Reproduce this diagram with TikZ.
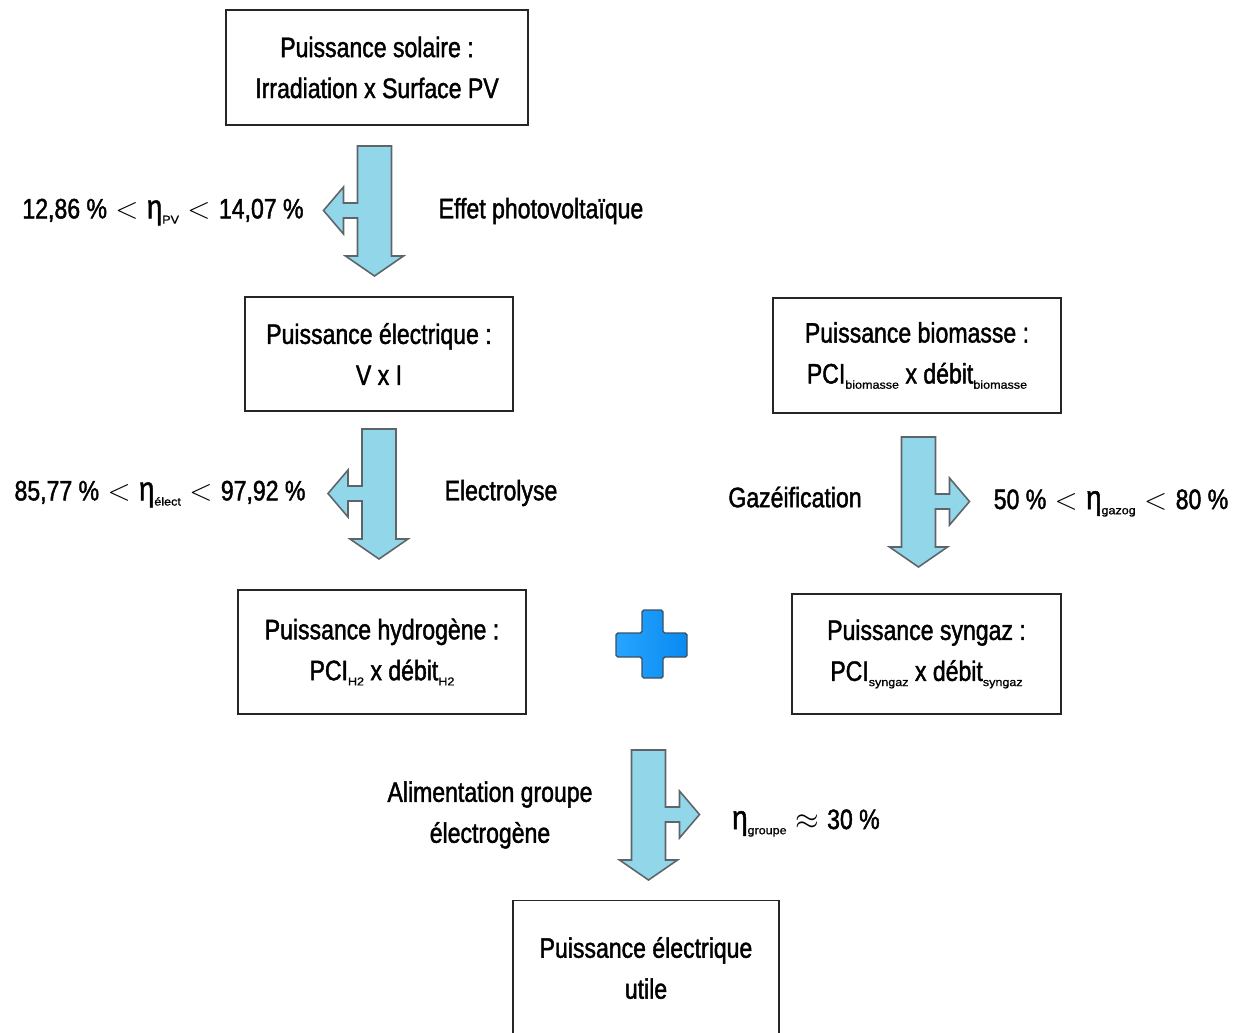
\documentclass[tikz,border=0pt]{standalone}
\usepackage{fontspec}
\setmainfont{Liberation Sans}[FakeStretch=0.82, FakeBold=1.5]
\newfontfamily\subfont{Liberation Sans}[FakeStretch=1.1, FakeBold=1]
\usepackage{xcolor}
\usepackage{tikz}

\definecolor{flowblue}{RGB}{146,214,234}
\definecolor{flowedge}{RGB}{95,100,105}
\definecolor{plusleft}{RGB}{40,165,255}
\definecolor{plusright}{RGB}{8,138,240}
\definecolor{plusedge}{RGB}{60,80,100}

% small index under the eta
\newcommand{\lo}[1]{\raisebox{-0.35ex}{\subfont\fontsize{6.5}{6.5}\selectfont #1}}
\newcommand{\ltsym}{{\fontsize{17}{17}\selectfont$\;<\;$}}
\newcommand{\etasym}{{\fontsize{19}{19}\selectfont η}}
\newcommand{\approxsym}{{\fontsize{17}{17}\selectfont$\;\approx\;$}}

% block arrow going down with a side branch (#3=1 left, #3=-1 right)
\newcommand{\brancharrow}[3]{%
\begin{scope}[shift={(#1,#2)},xscale=#3]
\draw[blockarrow] (-17,0) -- (17,0) -- (17,110) -- (29,110) -- (0,130) -- (-29,110) -- (-17,110)
  -- (-17,72) -- (-31,72) -- (-31,88) -- (-51,64.5) -- (-31,41) -- (-31,57) -- (-17,57) -- cycle;
\end{scope}}

\begin{document}
\begin{tikzpicture}[x=0.02cm,y=-0.02cm,
  box/.style={draw=black!85, line width=1pt, align=center, inner sep=0pt,
    font=\fontsize{16}{23.3}\selectfont},
  txt/.style={align=center, inner sep=0pt, font=\fontsize{16}{23.3}\selectfont},
  blockarrow/.style={draw=flowedge, line width=0.9pt, fill=flowblue, line join=miter}]

\clip (0,0) rectangle (1244,1032);

% boxes
\node[box, minimum width=6.04cm, minimum height=2.30cm] (solaire) at (377,67.5)
  {Puissance solaire :\\Irradiation x Surface PV};
\node[box, minimum width=5.36cm, minimum height=2.28cm] (elec) at (379,354)
  {Puissance électrique :\\V x I};
\node[box, minimum width=5.76cm, minimum height=2.30cm] (biomasse) at (917,355.5)
  {Puissance biomasse :\\PCI\lo{biomasse} x débit\lo{biomasse}};
\node[box, minimum width=5.76cm, minimum height=2.48cm] (hydrogene) at (382,652)
  {Puissance hydrogène :\\PCI\lo{H2} x débit\lo{H2}};
\node[box, minimum width=5.38cm, minimum height=2.40cm] (syngaz) at (926.5,654)
  {Puissance syngaz :\\PCI\lo{syngaz} x débit\lo{syngaz}};
\node[box, minimum width=5.32cm, minimum height=2.70cm] (utile) at (646,968)
  {Puissance électrique\\utile};

% arrows
\brancharrow{374.5}{146}{1}
\brancharrow{379}{429}{1}
\brancharrow{918.5}{437}{-1}
\brancharrow{648.5}{750}{-1}

% plus
\path[draw=plusedge, line width=0.8pt, rounded corners=1pt, left color=plusleft, right color=plusright]
  (642,610) -- (663,610) -- (663,633) -- (687,633) -- (687,657) -- (663,657) -- (663,678)
  -- (642,678) -- (642,657) -- (616,657) -- (616,633) -- (642,633) -- cycle;

% labels
\node[txt] (rendPV) at (163,212) {12,86 \%\ltsym\etasym\lo{PV}\ltsym 14,07 \%};
\node[txt] (effetPV) at (541,211) {Effet photovoltaïque};
\node[txt] (rendelec) at (160,494) {85,77 \%\ltsym\etasym\lo{élect}\ltsym 97,92 \%};
\node[txt] (electrolyse) at (501,493) {Electrolyse};
\node[txt] (gazeif) at (795,497) {Gazéification};
\node[txt] (rendgaz) at (1111,503) {50 \%\ltsym\etasym\lo{gazog}\ltsym 80 \%};
\node[txt] (alim) at (490,815) {Alimentation groupe\\électrogène};
\node[txt] (rendgroupe) at (806,823) {\etasym\lo{groupe}\approxsym 30 \%};

\end{tikzpicture}
\end{document}
